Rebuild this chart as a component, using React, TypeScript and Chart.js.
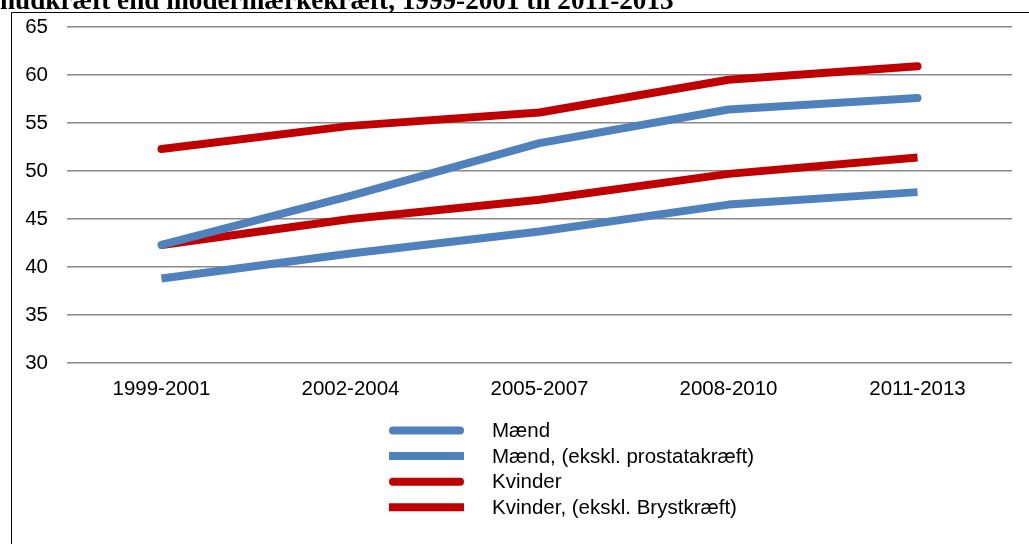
import React, { useEffect, useRef } from "react";
import { Chart, registerables } from "chart.js";

Chart.register(...registerables);

const categories = ["1999-2001", "2002-2004", "2005-2007", "2008-2010", "2011-2013"];
const maend = [42.3, 47.4, 52.9, 56.4, 57.6];
const maendEkskl = [38.8, 41.4, 43.7, 46.5, 47.8];
const kvinder = [52.3, 54.7, 56.1, 59.5, 60.9];
const kvinderEkskl = [42.3, 45.0, 47.0, 49.7, 51.4];
const seriesLabels = [
  "Mænd",
  "Mænd, (ekskl. prostatakræft)",
  "Kvinder",
  "Kvinder, (ekskl. Brystkræft)",
];
const titleText = "hudkræft end modermærkekræft, 1999-2001 til 2011-2013";

const BLUE = "#4F81BD";
const RED = "#C00000";
const FONT = "'Liberation Sans', Arial, sans-serif";

const decorPlugin = {
  id: "decor",
  afterDraw(chart: any) {
    const ctx = chart.ctx as CanvasRenderingContext2D;
    ctx.save();
    // frame
    ctx.strokeStyle = "#000";
    ctx.lineWidth = 1;
    ctx.beginPath();
    ctx.moveTo(11.5, chart.height);
    ctx.lineTo(11.5, 12.5);
    ctx.lineTo(chart.width, 12.5);
    ctx.stroke();
    // title (partly cut off at top)
    ctx.fillStyle = "#000";
    ctx.font = "bold 27.2px 'Liberation Serif', 'Times New Roman', serif";
    ctx.textBaseline = "alphabetic";
    ctx.textAlign = "left";
    ctx.fillText(titleText, 0, 9);
    // legend
    const ds = chart.data.datasets;
    const x0 = 389;
    const x1 = 464;
    const tx = 492;
    const y0 = 430.5;
    const step = 25.6;
    ctx.font = "20.5px " + FONT;
    ctx.textBaseline = "middle";
    ds.forEach((d: any, i: number) => {
      const y = y0 + i * step;
      const w = d.borderWidth;
      const round = d.borderCapStyle === "round";
      ctx.strokeStyle = d.borderColor;
      ctx.lineWidth = w;
      ctx.lineCap = round ? "round" : "butt";
      ctx.beginPath();
      ctx.moveTo(round ? x0 + w / 2 : x0, y);
      ctx.lineTo(round ? x1 - w / 2 : x1, y);
      ctx.stroke();
      ctx.fillStyle = "#000";
      ctx.fillText(d.label, tx, y + 1);
    });
    ctx.restore();
  },
};

export default function App() {
  const ref = useRef<HTMLCanvasElement | null>(null);
  useEffect(() => {
    if (!ref.current) return;
    const mk = (label: string, data: number[], color: string, cap: string) => ({
      label,
      data,
      borderColor: color,
      backgroundColor: color,
      borderWidth: 8,
      borderCapStyle: cap,
      borderJoinStyle: "round",
      pointRadius: 0,
      pointHoverRadius: 0,
      tension: 0,
      fill: false,
    });
    const chart = new Chart(ref.current, {
      type: "line",
      data: {
        labels: categories,
        datasets: [
          mk(seriesLabels[0], maend, BLUE, "round"),
          mk(seriesLabels[1], maendEkskl, BLUE, "butt"),
          mk(seriesLabels[2], kvinder, RED, "round"),
          mk(seriesLabels[3], kvinderEkskl, RED, "butt"),
        ] as any,
      },
      options: {
        animation: false,
        responsive: false,
        maintainAspectRatio: false,
        layout: { padding: { left: 0, right: 17, top: 27, bottom: 141 } },
        plugins: {
          legend: { display: false },
          tooltip: { enabled: false },
          title: { display: false },
        },
        scales: {
          x: {
            offset: true,
            grid: { display: false, drawTicks: false, offset: true },
            border: { display: false },
            ticks: {
              color: "#000",
              padding: 14,
              maxRotation: 0,
              font: { family: FONT, size: 20.5 },
            },
            afterFit: (s: any) => {
              s.height = 40;
              s.paddingLeft = 0;
              s.paddingRight = 0;
            },
          },
          y: {
            min: 30,
            max: 65,
            grid: { color: "#8a8a8a", lineWidth: 1.5, drawTicks: false },
            border: { display: false },
            ticks: {
              stepSize: 5,
              color: "#000",
              padding: 19,
              font: { family: FONT, size: 20.5 },
            },
            afterFit: (s: any) => {
              s.width = 67;
              s.paddingTop = 0;
              s.paddingBottom = 0;
            },
          },
        },
      },
      plugins: [decorPlugin],
    });
    return () => chart.destroy();
  }, []);
  return (
    <div style={{ position: "fixed", left: 0, top: 0, width: 1029, height: 544, background: "#fff" }}>
      <canvas ref={ref} width={1029} height={544} style={{ display: "block", width: 1029, height: 544 }} />
    </div>
  );
}
